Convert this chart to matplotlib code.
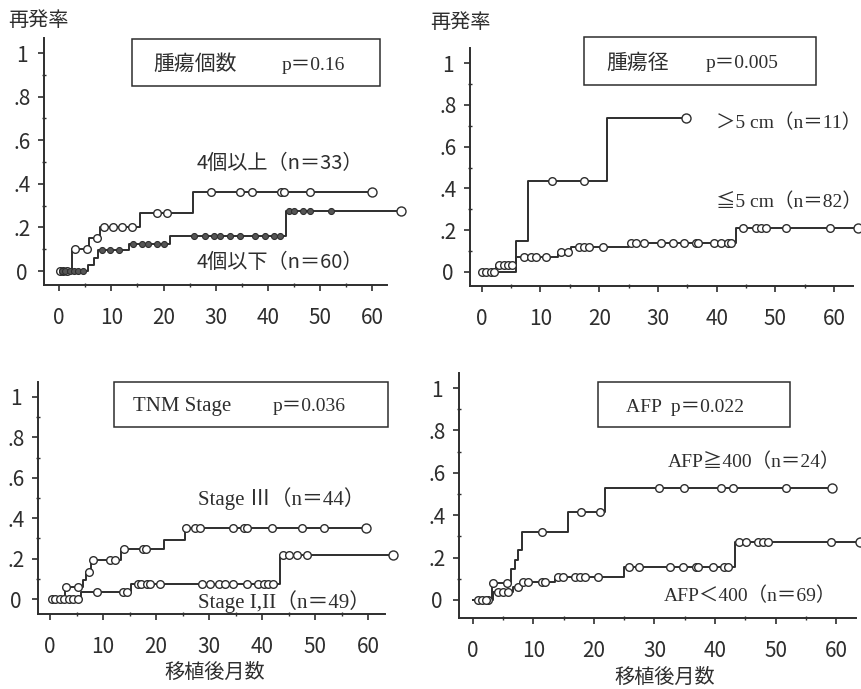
import matplotlib
matplotlib.use('Agg')
import matplotlib.pyplot as plt
from matplotlib.patches import Rectangle
import numpy as np

plt.rcParams['font.family'] = ['Noto Sans CJK JP', 'DejaVu Sans']

INK = '#2e2e2e'

# x ticks (months) and y ticks (recurrence rate)
x_ticks = [0, 10, 20, 30, 40, 50, 60]
y_ticks = [0, 0.2, 0.4, 0.6, 0.8, 1.0]
y_ticklabels = ['0', '.2', '.4', '.6', '.8', '1']

# --- 腫瘍個数 ---
n_many_t = [0, 2.4, 5.8, 7.9, 15.5, 25.6]
n_many_v = [0, 0.10, 0.15, 0.20, 0.265, 0.364]
n_many_cens = [0.2, 0.8, 1.5, 3.1, 5.3, 7.2, 8.5, 10.4, 12.0, 13.9, 18.7, 20.6,
               29.0, 34.7, 36.9, 42.5, 43.0, 48.1]
n_many_end = 60.0

n_few_t = [0, 5.6, 6.6, 7.5, 13.3, 21.3, 43.5]
n_few_v = [0, 0.03, 0.06, 0.095, 0.122, 0.16, 0.275]
n_few_cens = [0.5, 1.2, 2.0, 2.8, 3.7, 4.6, 8.2, 9.8, 11.4, 14.2, 15.8, 17.1,
              18.7, 20.0, 25.8, 28.0, 29.6, 30.9, 32.8, 34.7, 37.6, 39.5, 41.1,
              42.4, 44.0, 44.9, 46.8, 48.1, 52.0]
n_few_end = 65.4

# --- 腫瘍径 ---
big_t = [0, 5.8, 7.8, 21.4]
big_v = [0, 0.15, 0.435, 0.735]
big_cens = [12.0, 17.4]
big_end = 34.8

small_t = [0, 2.4, 5.8, 12.9, 15.2, 25.1, 43.3]
small_v = [0, 0.035, 0.073, 0.097, 0.118, 0.14, 0.212]
small_cens = [0.1, 0.8, 1.5, 2.1, 3.0, 3.8, 4.5, 5.2, 7.2, 8.4, 9.2, 10.9, 13.5,
              14.6, 16.6, 17.4, 18.3, 20.6, 25.4, 26.3, 27.7, 30.5, 32.5, 34.5,
              36.5, 36.8, 39.6, 40.7, 41.9, 42.4, 44.4, 46.7, 47.6, 48.4, 51.8, 59.2]
small_end = 64.0

# --- TNM Stage ---
st3_t = [0, 2.8, 6.2, 6.8, 7.7, 13.4, 21.5, 25.5]
st3_v = [0, 0.06, 0.094, 0.134, 0.193, 0.248, 0.29, 0.35]
st3_cens = [3.0, 5.3, 7.3, 8.1, 11.3, 12.3, 14.0, 17.5, 18.1, 25.7, 27.4, 28.3,
            34.6, 36.5, 37.1, 41.8, 47.5, 51.6]
st3_end = 59.7

st12_t = [0, 5.8, 15.3, 43.3]
st12_v = [0, 0.033, 0.073, 0.22]
st12_cens = [0.3, 1.0, 1.8, 2.6, 3.5, 4.4, 5.2, 8.8, 13.8, 14.5, 16.6, 17.2, 18.2,
             18.9, 20.8, 28.6, 30.2, 31.8, 33.0, 34.6, 37.1, 39.3, 40.3, 41.2,
             42.1, 44.0, 45.0, 46.5, 48.4]
st12_end = 64.8

# --- AFP ---
afp_hi_t = [0, 3.1, 6.3, 7.0, 7.4, 8.1, 15.7, 21.8]
afp_hi_v = [0, 0.08, 0.146, 0.19, 0.236, 0.32, 0.415, 0.53]
afp_hi_cens = [0.8, 2.5, 3.3, 5.6, 11.4, 17.8, 21.0, 30.8, 34.9, 41.0, 42.9, 51.7]
afp_hi_end = 59.4

afp_lo_t = [0, 3.3, 6.6, 7.9, 13.6, 25.0, 43.3]
afp_lo_v = [0, 0.04, 0.06, 0.085, 0.11, 0.157, 0.272]
afp_lo_cens = [1.5, 2.2, 4.1, 5.0, 5.8, 7.5, 8.3, 9.1, 11.4, 11.9, 14.1, 14.9,
               16.9, 17.7, 18.5, 20.7, 25.8, 27.5, 32.5, 34.7, 36.9, 37.2, 39.6,
               41.5, 42.1, 44.0, 45.1, 47.1, 47.9, 48.7, 59.2]
afp_lo_end = 63.9

W, H = 862, 689
fig = plt.figure(figsize=(W / 100, H / 100), dpi=100)


def fx(x):
    return x / W


def fy(y):
    return 1 - y / H


def km_curve(ax, t, v, cens, end, filled=False):
    t = np.asarray(t)
    v = np.asarray(v)
    xs = np.append(t, end)
    ys = np.append(v, v[-1])
    ax.step(xs, ys, where='post', color=INK, lw=1.4, clip_on=False, zorder=3)
    c = np.asarray(cens)
    cy = v[np.searchsorted(t, c, side='right') - 1]
    if filled:
        ax.plot(c, cy, 'o', ms=4.3, mew=0.8, mec=INK, mfc='#555555',
                clip_on=False, zorder=4)
    else:
        ax.plot(c, cy, 'o', ms=5.5, mew=1.0, mec=INK, mfc='white',
                clip_on=False, zorder=4)
    ax.plot([end], [v[-1]], 'o', ms=6.5, mew=1.0, mec=INK, mfc='white',
            clip_on=False, zorder=4)


def make_axes(box, xlim, ylim):
    l, r, t, b = box
    ax = fig.add_axes([fx(l), fy(b), fx(r - l), (b - t) / H])
    ax.set_xlim(*xlim)
    ax.set_ylim(*ylim)
    for s in ('top', 'right'):
        ax.spines[s].set_visible(False)
    for s in ('left', 'bottom'):
        ax.spines[s].set_color(INK)
        ax.spines[s].set_linewidth(1.4)
    ax.set_xticks(x_ticks)
    ax.set_xticks(np.arange(5, 60, 10), minor=True)
    ax.set_yticks(y_ticks)
    ax.set_yticklabels(y_ticklabels)
    ax.set_yticks(np.arange(0.1, 1.0, 0.2), minor=True)
    ax.tick_params(which='major', direction='out', length=4, width=1.2,
                   color=INK, labelcolor=INK, labelsize=15)
    ax.tick_params(which='minor', direction='inout', length=3, width=1.0,
                   color=INK)
    ax.tick_params(axis='x', which='major', pad=12)
    ax.tick_params(axis='y', which='major', pad=12)
    for lab in ax.get_yticklabels():
        lab.set_horizontalalignment('center')
    ax.patch.set_alpha(0)
    return ax


def frame(x0, y0, x1, y1):
    fig.patches.append(Rectangle((fx(x0), fy(y1)), fx(x1 - x0), (y1 - y0) / H,
                                 transform=fig.transFigure, fill=False,
                                 lw=1.1, ec=INK))


def label(x, y, s, size=14, ha='left', family=None):
    kw = {}
    if family:
        kw['family'] = family
    fig.text(fx(x), fy(y), s, ha=ha, va='center', fontsize=size, color=INK, **kw)


serif = ['Liberation Serif', 'Noto Sans CJK JP']

# 腫瘍個数
ax1 = make_axes((44, 387, 38, 285), (-2.9, 62.8), (-0.064, 1.069))
km_curve(ax1, n_many_t, n_many_v, n_many_cens, n_many_end)
km_curve(ax1, n_few_t, n_few_v, n_few_cens, n_few_end, filled=True)
frame(132, 39, 380, 86)
label(153, 64, '腫瘍個数', 15)
label(282, 65, 'p＝0.16', 14, family=serif)
label(197, 163, '4個以上（n＝33）', 14.5)
label(197, 262, '4個以下（n＝60）', 14.5)
label(8, 20, '再発率', 14.5)

# 腫瘍径
ax2 = make_axes((470, 853, 48, 286), (-2.0, 63.2), (-0.067, 1.072))
km_curve(ax2, big_t, big_v, big_cens, big_end)
km_curve(ax2, small_t, small_v, small_cens, small_end)
frame(584, 37, 816, 85)
label(606, 63, '腫瘍径', 15)
label(706, 64, 'p＝0.005', 14, family=serif)
label(716, 123, '＞5 cm（n＝11）', 14, family=serif)
label(716, 202, '≦5 cm（n＝82）', 14, family=serif)
label(430, 22, '再発率', 14.5)

# TNM Stage
ax3 = make_axes((38, 385, 382, 614), (-2.3, 63.2), (-0.074, 1.074))
km_curve(ax3, st3_t, st3_v, st3_cens, st3_end)
km_curve(ax3, st12_t, st12_v, st12_cens, st12_end)
frame(114, 382, 388, 427)
label(133, 406, 'TNM Stage', 15, family=serif)
label(273, 407, 'p＝0.036', 14, family=serif)
label(198, 499, 'Stage Ⅲ（n＝44）', 15, family=serif)
label(198, 602, 'Stage I,II（n＝49）', 15, family=serif)
label(215, 672, '移植後月数', 14.5, ha='center')

# AFP
ax4 = make_axes((459, 856, 373, 618), (-2.3, 63.3), (-0.085, 1.071))
km_curve(ax4, afp_hi_t, afp_hi_v, afp_hi_cens, afp_hi_end)
km_curve(ax4, afp_lo_t, afp_lo_v, afp_lo_cens, afp_lo_end)
frame(598, 382, 790, 427)
label(626, 408, 'AFP  p＝0.022', 14, family=serif)
label(668, 462, 'AFP≧400（n＝24）', 14, family=serif)
label(664, 596, 'AFP＜400（n＝69）', 14, family=serif)
label(665, 677, '移植後月数', 14.5, ha='center')

fig.savefig('out.png', dpi=100)
